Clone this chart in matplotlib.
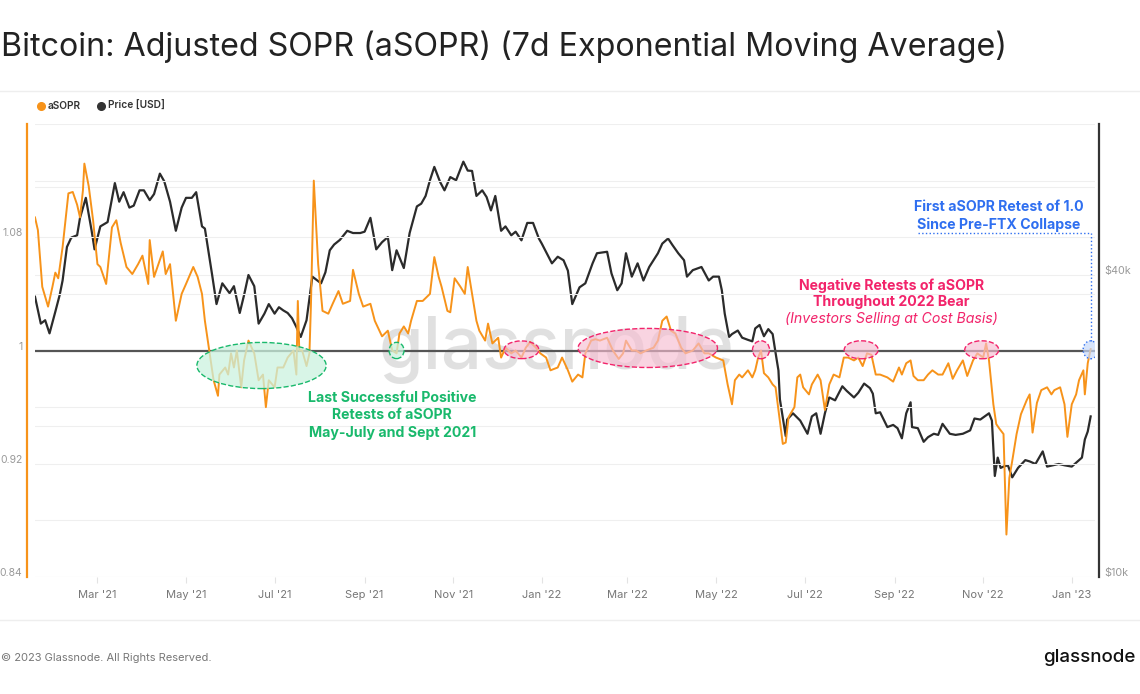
import matplotlib
matplotlib.use('Agg')
import matplotlib.pyplot as plt
import matplotlib.dates as mdates
import matplotlib.transforms as mtransforms
from matplotlib.patches import Ellipse
from matplotlib.lines import Line2D
import pandas as pd

plt.rcParams['font.family'] = ['Inter', 'DejaVu Sans']

# ---------------- data ----------------
asopr_dates = [
    "2021-01-17", "2021-01-19", "2021-01-22", "2021-01-26", "2021-01-29", "2021-01-31", "2021-02-02", "2021-02-05",
    "2021-02-09", "2021-02-12", "2021-02-15", "2021-02-17", "2021-02-19", "2021-02-20", "2021-02-23", "2021-02-26",
    "2021-03-01", "2021-03-03", "2021-03-07", "2021-03-11", "2021-03-14", "2021-03-17", "2021-03-21", "2021-03-25",
    "2021-03-29", "2021-04-01", "2021-04-05", "2021-04-06", "2021-04-09", "2021-04-13", "2021-04-15", "2021-04-17",
    "2021-04-20", "2021-04-24", "2021-04-28", "2021-05-01", "2021-05-06", "2021-05-09", "2021-05-12", "2021-05-14",
    "2021-05-17", "2021-05-20", "2021-05-23", "2021-05-24", "2021-05-28", "2021-05-30", "2021-06-01", "2021-06-03",
    "2021-06-05", "2021-06-08", "2021-06-10", "2021-06-13", "2021-06-17", "2021-06-20", "2021-06-23", "2021-06-25",
    "2021-06-27", "2021-07-01", "2021-07-03", "2021-07-07", "2021-07-10", "2021-07-14", "2021-07-16", "2021-07-17",
    "2021-07-18", "2021-07-20", "2021-07-23", "2021-07-25", "2021-07-26", "2021-07-28", "2021-07-31", "2021-08-03",
    "2021-08-07", "2021-08-10", "2021-08-14", "2021-08-17", "2021-08-22", "2021-08-24", "2021-08-28", "2021-08-31",
    "2021-09-05", "2021-09-08", "2021-09-13", "2021-09-17", "2021-09-20", "2021-09-23", "2021-09-25", "2021-09-28",
    "2021-10-01", "2021-10-03", "2021-10-07", "2021-10-11", "2021-10-16", "2021-10-19", "2021-10-22", "2021-10-24",
    "2021-10-28", "2021-10-30", "2021-11-02", "2021-11-06", "2021-11-09", "2021-11-11", "2021-11-14", "2021-11-17",
    "2021-11-19", "2021-11-23", "2021-11-25", "2021-11-28", "2021-12-02", "2021-12-04", "2021-12-07", "2021-12-11",
    "2021-12-14", "2021-12-18", "2021-12-21", "2021-12-24", "2021-12-28", "2021-12-31", "2022-01-04", "2022-01-07",
    "2022-01-12", "2022-01-15", "2022-01-19", "2022-01-22", "2022-01-26", "2022-01-29", "2022-01-31", "2022-02-04",
    "2022-02-07", "2022-02-10", "2022-02-15", "2022-02-19", "2022-02-23", "2022-02-26", "2022-02-28", "2022-03-04",
    "2022-03-07", "2022-03-10", "2022-03-14", "2022-03-19", "2022-03-22", "2022-03-25", "2022-03-28", "2022-03-31",
    "2022-04-03", "2022-04-07", "2022-04-10", "2022-04-15", "2022-04-19", "2022-04-23", "2022-04-26", "2022-05-01",
    "2022-05-06", "2022-05-09", "2022-05-12", "2022-05-14", "2022-05-17", "2022-05-19", "2022-05-23", "2022-05-26",
    "2022-05-28", "2022-05-30", "2022-06-01", "2022-06-03", "2022-06-06", "2022-06-09", "2022-06-11", "2022-06-13",
    "2022-06-16", "2022-06-18", "2022-06-20", "2022-06-24", "2022-06-26", "2022-06-28", "2022-06-30", "2022-07-04",
    "2022-07-06", "2022-07-10", "2022-07-12", "2022-07-15", "2022-07-18", "2022-07-21", "2022-07-25", "2022-07-28",
    "2022-07-31", "2022-08-04", "2022-08-07", "2022-08-10", "2022-08-13", "2022-08-16", "2022-08-19", "2022-08-22",
    "2022-08-27", "2022-08-31", "2022-09-04", "2022-09-06", "2022-09-09", "2022-09-12", "2022-09-14", "2022-09-17",
    "2022-09-21", "2022-09-24", "2022-09-27", "2022-10-01", "2022-10-04", "2022-10-08", "2022-10-11", "2022-10-14",
    "2022-10-18", "2022-10-21", "2022-10-25", "2022-10-28", "2022-11-01", "2022-11-03", "2022-11-05", "2022-11-08",
    "2022-11-10", "2022-11-12", "2022-11-15", "2022-11-17", "2022-11-19", "2022-11-21", "2022-11-24", "2022-11-27",
    "2022-12-01", "2022-12-03", "2022-12-05", "2022-12-08", "2022-12-11", "2022-12-15", "2022-12-18", "2022-12-20",
    "2022-12-24", "2022-12-27", "2022-12-29", "2023-01-01", "2023-01-04", "2023-01-06", "2023-01-09", "2023-01-10",
    "2023-01-12", "2023-01-14",
]
asopr_values = [
    1.094, 1.085, 1.045, 1.031, 1.045, 1.055, 1.051, 1.073,
    1.111, 1.112, 1.103, 1.094, 1.113, 1.132, 1.116, 1.092,
    1.061, 1.059, 1.047, 1.087, 1.092, 1.076, 1.059, 1.054,
    1.061, 1.067, 1.047, 1.078, 1.052, 1.064, 1.070, 1.054,
    1.061, 1.021, 1.040, 1.047, 1.059, 1.052, 1.040, 1.021,
    1.000, 0.979, 0.968, 0.983, 0.988, 0.983, 0.998, 0.988,
    1.000, 0.974, 0.993, 1.007, 0.998, 0.979, 0.983, 0.960,
    0.979, 0.974, 0.988, 0.988, 0.995, 1.000, 0.983, 1.035,
    1.000, 1.000, 0.989, 0.998, 1.031, 1.120, 1.061, 1.028,
    1.026, 1.033, 1.042, 1.033, 1.035, 1.057, 1.040, 1.031,
    1.033, 1.021, 1.010, 1.014, 1.000, 0.998, 1.012, 1.017,
    1.012, 1.021, 1.035, 1.035, 1.040, 1.066, 1.052, 1.045,
    1.028, 1.027, 1.051, 1.045, 1.040, 1.059, 1.040, 1.021,
    1.014, 1.007, 1.019, 1.005, 1.009, 0.995, 1.002, 0.998,
    1.000, 0.995, 1.002, 1.006, 1.002, 0.998, 0.995, 0.986,
    0.988, 0.995, 0.986, 0.978, 0.983, 0.981, 0.998, 1.007,
    1.008, 1.007, 1.009, 1.000, 0.994, 0.998, 1.007, 1.000,
    1.000, 0.998, 1.000, 1.002, 1.007, 1.021, 1.024, 1.014,
    1.012, 1.002, 0.998, 1.000, 1.005, 0.998, 0.998, 0.995,
    0.993, 0.976, 0.962, 0.979, 0.983, 0.981, 0.986, 0.981,
    0.986, 0.995, 1.000, 0.984, 0.981, 0.976, 0.974, 0.958,
    0.934, 0.935, 0.953, 0.960, 0.981, 0.983, 0.974, 0.969,
    0.976, 0.983, 0.979, 0.958, 0.976, 0.983, 0.981, 0.995,
    0.995, 0.993, 0.995, 0.989, 0.998, 0.997, 0.983, 0.983,
    0.981, 0.978, 0.988, 0.983, 0.991, 0.993, 0.982, 0.979,
    0.979, 0.983, 0.986, 0.983, 0.983, 0.991, 0.980, 0.986,
    0.993, 0.982, 0.993, 0.998, 0.995, 1.005, 0.993, 0.962,
    0.948, 0.945, 0.941, 0.870, 0.910, 0.922, 0.941, 0.955,
    0.965, 0.969, 0.942, 0.963, 0.972, 0.974, 0.969, 0.972,
    0.974, 0.962, 0.939, 0.962, 0.969, 0.979, 0.986, 0.969,
    0.991, 1.001,
]

price_dates = [
    "2021-01-17", "2021-01-21", "2021-01-24", "2021-01-27", "2021-01-31", "2021-02-03", "2021-02-05", "2021-02-08",
    "2021-02-11", "2021-02-15", "2021-02-17", "2021-02-21", "2021-02-25", "2021-02-27", "2021-03-03", "2021-03-08",
    "2021-03-13", "2021-03-16", "2021-03-19", "2021-03-23", "2021-03-26", "2021-03-30", "2021-04-02", "2021-04-06",
    "2021-04-09", "2021-04-13", "2021-04-16", "2021-04-20", "2021-04-24", "2021-04-28", "2021-05-01", "2021-05-05",
    "2021-05-08", "2021-05-12", "2021-05-14", "2021-05-19", "2021-05-22", "2021-05-26", "2021-05-31", "2021-06-03",
    "2021-06-07", "2021-06-10", "2021-06-13", "2021-06-17", "2021-06-20", "2021-06-24", "2021-06-27", "2021-07-01",
    "2021-07-04", "2021-07-07", "2021-07-10", "2021-07-13", "2021-07-16", "2021-07-19", "2021-07-23", "2021-07-27",
    "2021-08-02", "2021-08-05", "2021-08-08", "2021-08-11", "2021-08-15", "2021-08-20", "2021-08-24", "2021-08-29",
    "2021-09-01", "2021-09-05", "2021-09-09", "2021-09-13", "2021-09-17", "2021-09-20", "2021-09-23", "2021-09-28",
    "2021-10-02", "2021-10-07", "2021-10-10", "2021-10-13", "2021-10-16", "2021-10-19", "2021-10-23", "2021-10-26",
    "2021-10-30", "2021-11-03", "2021-11-08", "2021-11-11", "2021-11-14", "2021-11-17", "2021-11-21", "2021-11-24",
    "2021-11-27", "2021-11-30", "2021-12-04", "2021-12-07", "2021-12-11", "2021-12-14", "2021-12-18", "2021-12-22",
    "2021-12-26", "2021-12-30", "2022-01-01", "2022-01-08", "2022-01-12", "2022-01-16", "2022-01-19", "2022-01-22",
    "2022-01-27", "2022-01-31", "2022-02-05", "2022-02-08", "2022-02-15", "2022-02-18", "2022-02-22", "2022-02-25",
    "2022-02-28", "2022-03-04", "2022-03-08", "2022-03-12", "2022-03-16", "2022-03-22", "2022-03-25", "2022-03-29",
    "2022-04-01", "2022-04-05", "2022-04-09", "2022-04-11", "2022-04-15", "2022-04-21", "2022-04-26", "2022-04-29",
    "2022-05-03", "2022-05-05", "2022-05-07", "2022-05-10", "2022-05-12", "2022-05-16", "2022-05-19", "2022-05-23",
    "2022-05-26", "2022-05-28", "2022-05-31", "2022-06-03", "2022-06-06", "2022-06-09", "2022-06-11", "2022-06-13",
    "2022-06-14", "2022-06-18", "2022-06-19", "2022-06-23", "2022-06-28", "2022-07-03", "2022-07-06", "2022-07-09",
    "2022-07-12", "2022-07-15", "2022-07-18", "2022-07-22", "2022-07-27", "2022-07-30", "2022-08-04", "2022-08-07",
    "2022-08-11", "2022-08-15", "2022-08-17", "2022-08-19", "2022-08-22", "2022-08-27", "2022-08-31", "2022-09-03",
    "2022-09-06", "2022-09-09", "2022-09-12", "2022-09-13", "2022-09-17", "2022-09-21", "2022-09-24", "2022-09-28",
    "2022-10-01", "2022-10-04", "2022-10-09", "2022-10-13", "2022-10-18", "2022-10-23", "2022-10-26", "2022-10-30",
    "2022-11-05", "2022-11-07", "2022-11-09", "2022-11-11", "2022-11-13", "2022-11-15", "2022-11-18", "2022-11-21",
    "2022-11-25", "2022-11-30", "2022-12-03", "2022-12-07", "2022-12-12", "2022-12-15", "2022-12-19", "2022-12-23",
    "2022-12-27", "2023-01-01", "2023-01-04", "2023-01-06", "2023-01-08", "2023-01-10", "2023-01-12", "2023-01-14",
]
price_values = [
    36200, 32000, 32500, 30600, 33800, 36500, 39000, 45500,
    47500, 48000, 52000, 57000, 49000, 45000, 50000, 51000,
    61000, 56000, 58500, 54500, 55000, 59000, 59000, 56400,
    58000, 63700, 61500, 56000, 49000, 54500, 57000, 57000,
    58500, 50000, 49500, 40000, 35000, 38500, 36800, 38000,
    33600, 36500, 40000, 38000, 32000, 33500, 35000, 33500,
    34500, 34000, 33600, 32800, 31500, 30100, 32500, 39700,
    38500, 40500, 44800, 46000, 47000, 49000, 48500, 48500,
    48800, 52000, 45000, 46500, 47600, 40900, 44800, 41300,
    48500, 54800, 55500, 57500, 61800, 65700, 61300, 59000,
    62700, 61800, 67300, 64600, 64500, 57500, 59000, 57200,
    53800, 57500, 49000, 50000, 48000, 48800, 46900, 50800,
    50800, 47300, 46200, 42200, 43500, 42800, 40800, 35000,
    37800, 38500, 42200, 44200, 44500, 40300, 37300, 38500,
    44200, 39700, 42200, 39000, 41500, 44200, 46200, 47300,
    45900, 44200, 42800, 39700, 40900, 41500, 39000, 39700,
    39700, 37300, 33500, 30100, 30500, 31000, 30000, 29700,
    29500, 31300, 31800, 30200, 31200, 30500, 28000, 25800,
    22600, 19100, 20600, 21200, 20500, 19300, 20900, 21200,
    19300, 21200, 22800, 22500, 24000, 23500, 22800, 23300,
    24300, 23800, 23200, 21200, 21300, 19900, 20100, 19800,
    18900, 21200, 22300, 19900, 19800, 18600, 19000, 19300,
    19200, 20200, 19300, 19200, 19300, 19600, 20700, 20600,
    21200, 20500, 15900, 17300, 16500, 16600, 16700, 15800,
    16500, 17100, 17000, 16800, 17800, 16600, 16700, 16800,
    16700, 16600, 16900, 17100, 17300, 18800, 19500, 20900,
]

left_ticks = [0.84, 0.88, 0.92, 0.96, 1.00, 1.04, 1.08, 1.12, 1.16]
left_tick_labels = ["0.84", "", "0.92", "", "1", "", "1.08", "", ""]
right_ticks = [10000, 20000, 40000, 60000]
right_tick_labels = ["$10k", "", "$40k", ""]

title = "Bitcoin: Adjusted SOPR (aSOPR) (7d Exponential Moving Average)"

ORANGE = "#f7931a"
BLACK = "#2b2b2b"
GREEN = "#19b96c"
PINK = "#f2246b"
BLUE = "#2f6ff0"

a_dates = pd.to_datetime(asopr_dates)
p_dates = pd.to_datetime(price_dates)

W, H = 1140, 694
L, R, T, B = 35, 1095, 124, 577

fig = plt.figure(figsize=(W / 100, H / 100), dpi=100)
fig.patch.set_facecolor("white")
ax = fig.add_axes([L / W, 1 - B / H, (R - L) / W, (B - T) / H])
ax2 = ax.twinx()
ax.set_zorder(ax2.get_zorder() + 1)
ax.patch.set_visible(False)

xmin = pd.Timestamp("2021-01-17")
xmax = pd.Timestamp("2023-01-17")

# price (right axis, log)
ax2.plot(p_dates, price_values, color=BLACK, lw=1.6, zorder=3)
ax2.set_yscale("log")
ax2.set_ylim(10000, 80000)
ax2.set_yticks(right_ticks)
ax2.set_yticklabels(right_tick_labels)
ax2.yaxis.set_minor_locator(matplotlib.ticker.NullLocator())
ax2.grid(axis="y", color="#efefef", lw=0.8)
ax2.tick_params(axis="y", length=0, pad=4, labelsize=7.8, labelcolor="#999999")
for s in ["top", "bottom", "left"]:
    ax2.spines[s].set_visible(False)
ax2.spines["right"].set_color("#333333")
ax2.spines["right"].set_linewidth(1.6)
ax2.spines["right"].set_position(("outward", 3))

# aSOPR (left axis)
ax.plot(a_dates, asopr_values, color=ORANGE, lw=1.4, zorder=4)
ax.axhline(1.0, color="#555555", lw=1.6, zorder=3)
ax.set_ylim(0.84, 1.16)
ax.set_yticks(left_ticks)
ax.set_yticklabels(left_tick_labels)
ax.grid(axis="y", color="#efefef", lw=0.8)
ax.set_axisbelow(True)
ax.tick_params(axis="y", length=0, pad=3, labelsize=7.5, labelcolor="#999999")
for s in ["top", "bottom", "right"]:
    ax.spines[s].set_visible(False)
ax.spines["left"].set_color(ORANGE)
ax.spines["left"].set_linewidth(1.6)
ax.spines["left"].set_position(("outward", 6))

ax.set_xlim(xmin, xmax)
ax.xaxis.set_major_locator(mdates.MonthLocator(bymonth=[1, 3, 5, 7, 9, 11]))
ax.xaxis.set_major_formatter(mdates.DateFormatter("%b '%y"))
ax.tick_params(axis="x", length=4, color="#e3e3e3", pad=5, labelsize=8, labelcolor="#777777")

# nudge y tick labels up a little
up = mtransforms.ScaledTranslation(0, 5 / 100, fig.dpi_scale_trans)
for lab in ax.get_yticklabels() + ax2.get_yticklabels():
    lab.set_transform(lab.get_transform() + up)

# watermark
ax.text(0.4925, 0.50, "glassnode", transform=ax.transAxes, ha="center", va="center",
        fontsize=52, color="#d4d4d4", alpha=0.7, zorder=1, fontweight="medium")

# ellipses
def ell(center, width_days, cy, h, face, edge, ls="--"):
    e = Ellipse((mdates.date2num(pd.Timestamp(center)), cy), width_days, h,
                facecolor=face, edgecolor=edge, lw=1.0, ls=ls, zorder=5)
    ax.add_patch(e)

green_face = (0.80, 0.95, 0.88, 0.75)
ell("2021-06-22", 89, 0.9894, 0.0326, green_face, GREEN)
ell("2021-09-23", 10.3, 1.0, 0.0115, green_face, GREEN)
pink_face = (0.97, 0.74, 0.82, 0.65)
ell("2021-12-18", 24, 1.0005, 0.0125, pink_face, PINK)
ell("2022-03-15", 96, 1.0018, 0.0276, pink_face, PINK)
ell("2022-06-01", 11.7, 1.0005, 0.0127, pink_face, PINK)
ell("2022-08-09", 23.4, 1.0005, 0.0127, pink_face, PINK)
ell("2022-10-31", 23.4, 1.0005, 0.0127, pink_face, PINK)
ell("2023-01-14", 10.3, 1.0005, 0.0127, (0.78, 0.85, 0.98, 0.7), BLUE, ls=":")

# blue dotted leader
x_top = mdates.date2num(pd.Timestamp("2023-01-14 10:00"))
x_left = mdates.date2num(pd.Timestamp("2022-09-17"))
ax.plot([x_top, x_top], [1.0065, 1.0828], color=BLUE, lw=1.0, ls=":", zorder=5)
ax.plot([x_left, x_top], [1.0828, 1.0828], color=BLUE, lw=1.0, ls=":", zorder=5)

# annotations
FS = 10.2
ax.text(pd.Timestamp("2022-11-12"), 1.0952, "First aSOPR Retest of 1.0\nSince Pre-FTX Collapse",
        ha="center", va="center", color=BLUE, fontsize=FS, fontweight="bold", linespacing=1.3, zorder=6)

nx = pd.Timestamp("2022-08-30")
ax.text(nx, 1.046, "Negative Retests of aSOPR", ha="center", va="center", color=PINK,
        fontsize=FS, fontweight="bold", zorder=6)
ax.text(nx, 1.034, "Throughout 2022 Bear", ha="center", va="center", color=PINK,
        fontsize=FS, fontweight="bold", zorder=6)
ax.text(nx, 1.022, "(Investors Selling at Cost Basis)", ha="center", va="center", color=PINK,
        fontsize=FS, fontstyle="italic", zorder=6)

gx = pd.Timestamp("2021-09-20")
ax.text(gx, 0.9542, "Last Successful Positive\nRetests of aSOPR\nMay-July and Sept 2021",
        ha="center", va="center", color=GREEN, fontsize=FS, fontweight="bold", linespacing=1.3, zorder=6)

# title / legend / footer
fig.text(0.001, 1 - 47 / H, title, ha="left", va="center", fontsize=23.2, color="#222222")
fig.add_artist(Line2D([0, 1], [1 - 91 / H, 1 - 91 / H], color="#eeeeee", lw=1.0, transform=fig.transFigure))

fig.add_artist(Line2D([41 / W], [1 - 106 / H], marker="o", markersize=5.5, color=ORANGE, transform=fig.transFigure))
fig.text(48 / W, 1 - 106 / H, "aSOPR", ha="left", va="center", fontsize=7.3, color="#333333", fontweight="semibold")
fig.add_artist(Line2D([101 / W], [1 - 106 / H], marker="o", markersize=5.5, color="#333333", transform=fig.transFigure))
fig.text(108 / W, 1 - 106 / H, "Price [USD]", ha="left", va="center", fontsize=7.3, color="#333333", fontweight="semibold")

fig.add_artist(Line2D([0, 1], [1 - 620 / H, 1 - 620 / H], color="#eeeeee", lw=1.0, transform=fig.transFigure))
fig.text(0.001, 1 - 658 / H, "© 2023 Glassnode. All Rights Reserved.", ha="left", va="center",
         fontsize=8, color="#777777")
fig.text(1136 / W, 1 - 658 / H, "glassnode", ha="right", va="center", fontsize=13.5, color="#111111",
         fontweight="medium")

fig.savefig("out.png", dpi=100, facecolor="white")
